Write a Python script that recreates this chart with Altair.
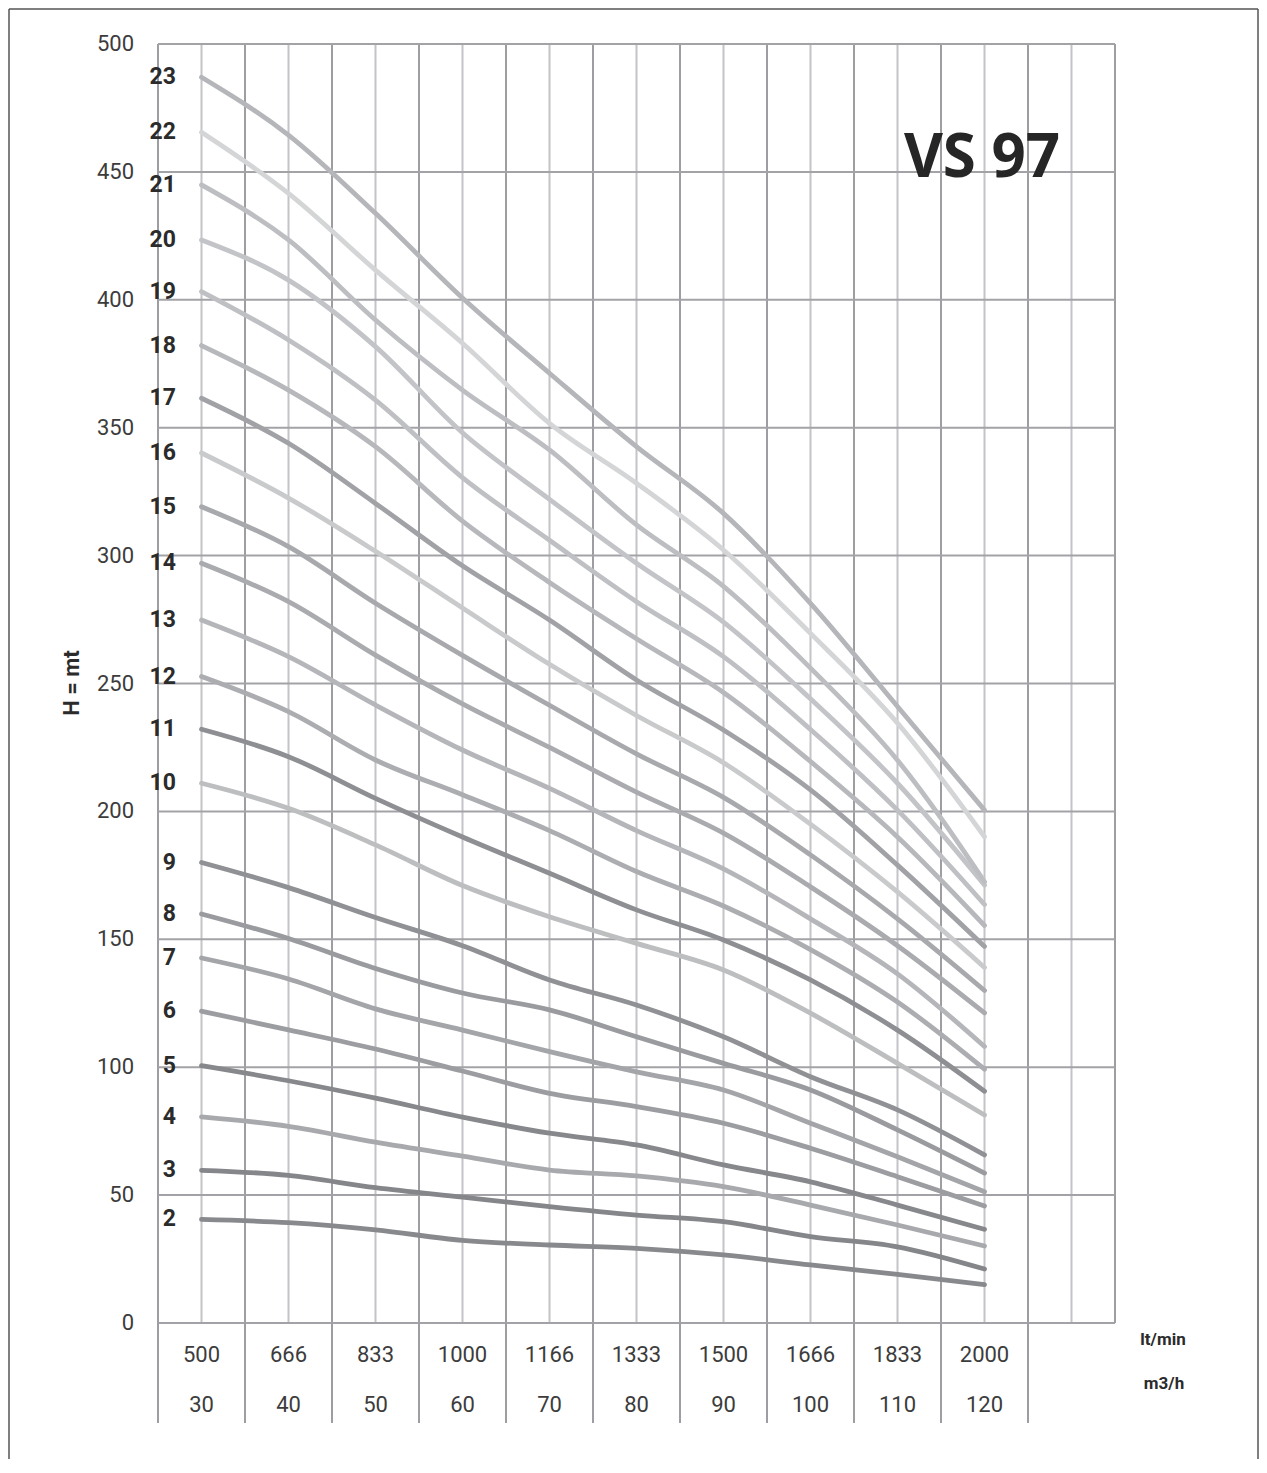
import altair as alt
import pandas as pd

# ---------------- data ----------------
lt_min = ["500", "666", "833", "1000", "1166", "1333", "1500", "1666", "1833", "2000"]
m3_h = ["30", "40", "50", "60", "70", "80", "90", "100", "110", "120"]
y_ticks = [0, 50, 100, 150, 200, 250, 300, 350, 400, 450, 500]

H2 = [40.5, 39.2, 36.4, 32.3, 30.5, 29.2, 26.6, 22.7, 19.0, 15.0]
H3 = [59.7, 57.7, 52.9, 49.2, 45.5, 42.2, 39.6, 33.8, 29.8, 21.1]
H4 = [80.6, 76.9, 70.7, 65.2, 59.8, 57.5, 53.3, 46.1, 38.3, 30.1]
H5 = [100.6, 94.7, 87.9, 80.5, 74.2, 69.6, 61.8, 55.2, 46.1, 36.6]
H6 = [121.9, 114.6, 107.1, 98.5, 89.8, 84.6, 78.1, 68.3, 57.2, 45.7]
H7 = [142.7, 134.5, 122.8, 114.5, 106.1, 98.2, 91.1, 78.1, 65.0, 51.3]
H8 = [159.9, 150.3, 138.6, 129.0, 122.4, 111.9, 101.5, 91.1, 75.5, 58.6]
H9 = [180.0, 170.2, 158.5, 147.5, 134.1, 124.3, 111.9, 96.3, 83.3, 65.7]
H10 = [211.0, 201.2, 186.9, 171.0, 158.8, 148.4, 138.0, 121.1, 101.5, 81.3]
H11 = [232.1, 221.4, 205.1, 190.0, 175.8, 161.5, 149.7, 134.1, 114.5, 90.6]
H12 = [252.7, 239.0, 220.1, 206.5, 192.5, 176.5, 163.0, 146.0, 125.5, 99.2]
H13 = [274.8, 260.5, 241.6, 224.0, 209.0, 192.5, 177.5, 158.0, 136.5, 108.1]
H14 = [297.0, 282.0, 261.1, 242.0, 225.0, 207.5, 191.5, 170.5, 147.5, 121.2]
H15 = [319.1, 303.5, 281.4, 261.0, 241.5, 222.5, 205.5, 183.0, 158.0, 130.0]
H16 = [340.1, 322.5, 301.7, 279.5, 257.5, 237.5, 219.0, 195.0, 168.5, 139.0]
H17 = [361.5, 343.9, 320.4, 296.0, 274.8, 251.4, 231.8, 208.4, 179.0, 147.2]
H18 = [382.1, 364.7, 342.6, 313.5, 289.5, 267.5, 246.5, 219.5, 190.0, 155.4]
H19 = [403.2, 384.3, 360.8, 330.5, 306.0, 282.0, 260.5, 232.0, 200.5, 163.6]
H20 = [423.4, 407.7, 381.7, 348.0, 322.0, 297.0, 274.0, 244.0, 211.0, 171.2]
H21 = [444.9, 423.4, 392.1, 364.7, 341.3, 312.0, 288.0, 256.0, 220.0, 172.5]
H22 = [465.5, 441.6, 411.6, 383.0, 351.7, 328.3, 302.2, 269.6, 234.5, 190.1]
H23 = [487.0, 464.4, 433.8, 400.7, 371.3, 342.6, 316.5, 281.3, 241.0, 200.5]

curves = {2: H2, 3: H3, 4: H4, 5: H5, 6: H6, 7: H7, 8: H8, 9: H9, 10: H10,
          11: H11, 12: H12, 13: H13, 14: H14, 15: H15, 16: H16, 17: H17,
          18: H18, 19: H19, 20: H20, 21: H21, 22: H22, 23: H23}

line_colors = {
    2: "#88898d", 3: "#85868a", 4: "#a8a9ac", 5: "#87888c", 6: "#9c9da1",
    7: "#a4a5a9", 8: "#9a9b9f", 9: "#909195", 10: "#bdbec0", 11: "#8e8f93",
    12: "#acadb0", 13: "#b5b6b9", 14: "#aaabae", 15: "#a8a9ac", 16: "#c9cacc",
    17: "#a1a2a6", 18: "#b7b8bb", 19: "#bfc0c3", 20: "#c3c4c7", 21: "#bdbec1",
    22: "#d4d5d7", 23: "#b4b6b9",
}

# ---------------- geometry ----------------
W, H = 957, 1279
xs = alt.Scale(domain=[-0.5, 10.5], nice=False, zero=False)
ys = alt.Scale(domain=[0, 500], nice=False, zero=False)

rows = []
for st, vals in curves.items():
    for i, v in enumerate(vals):
        rows.append({"stage": str(st), "i": i, "H": v, "lt": lt_min[i]})
df = pd.DataFrame(rows)

stage_order = [str(s) for s in curves]
color_scale = alt.Scale(domain=stage_order, range=[line_colors[s] for s in curves])

lab_df = pd.DataFrame({"stage": stage_order, "H": [curves[s][0] for s in curves]})

center_df = pd.DataFrame({"p": [float(i) for i in range(11)]})
bound_df = pd.DataFrame({"p": [i + 0.5 for i in range(-1, 11)]})
table_df = pd.DataFrame({"p": [i + 0.5 for i in range(-1, 10)]})
hgrid_df = pd.DataFrame({"v": y_ticks})
xlab_df = pd.DataFrame({"i": list(range(10)), "lt": lt_min, "m3": m3_h})
one = pd.DataFrame({"a": [0]})

X = lambda f: alt.X(f, scale=xs, axis=None)
Y = lambda f: alt.Y(f, scale=ys, axis=None)

vlight = alt.Chart(center_df).mark_rule(color="#c4c4c8", strokeWidth=2).encode(
    x=X("p:Q"), y=alt.value(0), y2=alt.value(H))
vdark = alt.Chart(bound_df).mark_rule(color="#9e9ea2", strokeWidth=2).encode(
    x=X("p:Q"), y=alt.value(0), y2=alt.value(H))
hgrid = alt.Chart(hgrid_df).mark_rule(color="#a3a3a7", strokeWidth=2).encode(
    y=Y("v:Q"), x=alt.value(0), x2=alt.value(W))
tablev = alt.Chart(table_df).mark_rule(color="#9e9ea2", strokeWidth=2).encode(
    x=X("p:Q"), y=alt.value(H), y2=alt.value(H + 100))

lines = alt.Chart(df).mark_line(strokeWidth=4.8, interpolate="monotone", strokeCap="round").encode(
    x=X("i:Q"), y=Y("H:Q"),
    color=alt.Color("stage:N", scale=color_scale, legend=None),
    order=alt.Order("i:Q"),
)

stage_labels = alt.Chart(lab_df).mark_text(
    align="right", baseline="middle", font="Roboto", fontWeight="bold",
    fontSize=23, color="#2b2b2b").encode(
    x=alt.value(18), y=Y("H:Q"), text="stage:N")

ytick_labels = alt.Chart(hgrid_df).mark_text(
    align="right", baseline="middle", font="Roboto", fontSize=22, color="#3c3c3c").encode(
    x=alt.value(-24), y=Y("v:Q"), text="v:Q")

xlab1 = alt.Chart(xlab_df).mark_text(
    align="center", baseline="middle", font="Roboto", fontSize=22, color="#3c3c3c").encode(
    x=X("i:Q"), y=alt.value(H + 32), text="lt:N")
xlab2 = alt.Chart(xlab_df).mark_text(
    align="center", baseline="middle", font="Roboto", fontSize=22, color="#3c3c3c").encode(
    x=X("i:Q"), y=alt.value(H + 82), text="m3:N")

title = alt.Chart(one).mark_text(
    text="VS 97", align="center", baseline="middle", font="Open Sans",
    fontWeight="bold", fontSize=60, color="#262626").encode(
    x=alt.value(824), y=alt.value(115))

ytitle = alt.Chart(one).mark_text(
    text="H = mt", align="center", baseline="middle", font="Roboto",
    fontWeight="bold", fontSize=22, angle=270, color="#2b2b2b").encode(
    x=alt.value(-86), y=alt.value(639))

unit1 = alt.Chart(one).mark_text(
    text="lt/min", align="center", baseline="middle", font="Roboto",
    fontWeight="bold", fontSize=17, color="#2b2b2b").encode(
    x=alt.value(1005), y=alt.value(1296))
unit2 = alt.Chart(one).mark_text(
    text="m3/h", align="center", baseline="middle", font="Roboto",
    fontWeight="bold", fontSize=17, color="#2b2b2b").encode(
    x=alt.value(1006), y=alt.value(1340))

# outer frame (left, top, right edges)
frame_left = alt.Chart(one).mark_rule(color="#555555", strokeWidth=1.5).encode(
    x=alt.value(-149), y=alt.value(-35), y2=alt.value(1500))
frame_right = alt.Chart(one).mark_rule(color="#555555", strokeWidth=1.5).encode(
    x=alt.value(1100), y=alt.value(-35), y2=alt.value(1500))
frame_top = alt.Chart(one).mark_rule(color="#555555", strokeWidth=1.5).encode(
    y=alt.value(-35), x=alt.value(-149), x2=alt.value(1100))

chart = alt.layer(
    frame_left, frame_right, frame_top, vlight, vdark, hgrid, tablev, lines,
    stage_labels, ytick_labels, xlab1, xlab2, title, ytitle, unit1, unit2,
).properties(
    width=W, height=H,
    autosize=alt.AutoSizeParams(type="none"),
    padding={"left": 150, "top": 36, "right": 144, "bottom": 136},
).configure_view(stroke=None)

chart.save("out.html", embed_options={"renderer": "svg", "actions": False})
